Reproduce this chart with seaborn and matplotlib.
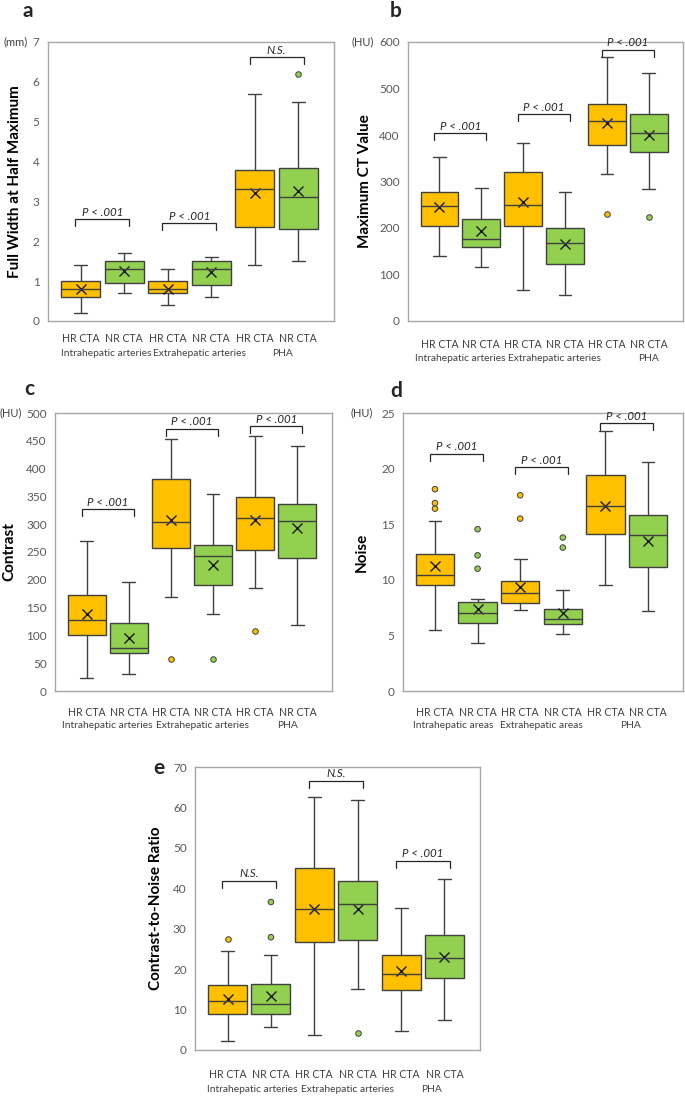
import numpy as np
import pandas as pd
import matplotlib
matplotlib.use("Agg")
import matplotlib.pyplot as plt
import seaborn as sns

# ---- data ----
groups = ["HR CTA", "NR CTA", "HR CTA", "NR CTA", "HR CTA", "NR CTA"]
regions_arteries = ["Intrahepatic arteries", "Extrahepatic arteries", "PHA"]
regions_areas = ["Intrahepatic areas", "Extrahepatic areas", "PHA"]

# a: full width at half maximum (mm)
fwhm_lo = [0.2, 0.7, 0.4, 0.6, 1.4, 1.5]
fwhm_q1 = [0.6, 0.95, 0.7, 0.9, 2.35, 2.3]
fwhm_med = [0.8, 1.3, 0.8, 1.3, 3.3, 3.1]
fwhm_q3 = [1.0, 1.5, 1.0, 1.5, 3.8, 3.85]
fwhm_hi = [1.4, 1.7, 1.3, 1.6, 5.7, 5.5]
fwhm_mean = [0.8, 1.25, 0.8, 1.22, 3.2, 3.25]
fwhm_out = [[], [], [], [], [], [6.2]]

# b: maximum CT value (HU)
maxct_lo = [140, 117, 67, 55, 316, 284]
maxct_q1 = [204, 160, 204, 122, 378, 363]
maxct_med = [247, 176, 250, 168, 430, 405]
maxct_q3 = [277, 220, 321, 201, 466, 445]
maxct_hi = [353, 285, 382, 277, 568, 534]
maxct_mean = [246, 193, 256, 166, 426, 400]
maxct_out = [[], [], [], [], [230], [223]]

# c: contrast (HU)
contrast_lo = [23, 31, 169, 138, 185, 118]
contrast_q1 = [101, 68, 258, 190, 254, 240]
contrast_med = [128, 77, 304, 242, 312, 305]
contrast_q3 = [173, 122, 382, 263, 349, 337]
contrast_hi = [269, 196, 453, 354, 459, 441]
contrast_mean = [139, 96, 307, 227, 307, 293]
contrast_out = [[], [], [58], [58], [108], []]

# d: noise (HU)
noise_lo = [5.5, 4.3, 7.3, 5.1, 9.5, 7.2]
noise_q1 = [9.55, 6.1, 7.95, 6.0, 14.1, 11.15]
noise_med = [10.45, 7.0, 8.8, 6.45, 16.6, 14.05]
noise_q3 = [12.3, 8.0, 9.85, 7.35, 19.45, 15.8]
noise_hi = [15.3, 8.3, 11.85, 9.05, 23.4, 20.6]
noise_mean = [11.2, 7.4, 9.35, 7.0, 16.65, 13.45]
noise_out = [[16.4, 16.9, 18.15], [11.0, 12.2, 14.55], [15.5, 17.6], [12.9, 13.8], [], []]

# e: contrast-to-noise ratio
cnr_lo = [2.2, 5.8, 3.7, 15.1, 4.8, 7.5]
cnr_q1 = [9.0, 8.8, 26.7, 27.3, 14.9, 17.8]
cnr_med = [12.0, 11.4, 34.8, 36.2, 18.85, 22.8]
cnr_q3 = [16.0, 16.35, 44.9, 41.7, 23.4, 28.4]
cnr_hi = [24.5, 23.5, 62.6, 61.9, 35.1, 42.4]
cnr_mean = [12.6, 13.3, 34.9, 34.8, 19.5, 23.0]
cnr_out = [[27.5], [27.9, 36.6], [], [4.2], [], []]

# comparison brackets: height of bracket and label
brackets_a = [(2.56, "P < .001"), (2.46, "P < .001"), (6.62, "N.S.")]
brackets_b = [(404, "P < .001"), (445, "P < .001"), (583, "P < .001")]
brackets_c = [(327, "P < .001"), (472, "P < .001"), (476, "P < .001")]
brackets_d = [(21.35, "P < .001"), (20.1, "P < .001"), (24.1, "P < .001")]
brackets_e = [(41.9, "N.S."), (66.6, "N.S."), (46.8, "P < .001")]

# ---- style ----
W, H = 685, 1097
ORANGE, GREEN = "#FFC000", "#92D050"
EDGE = "#404040"
keys = [f"b{i}" for i in range(6)]
palette = {k: (ORANGE if i % 2 == 0 else GREEN) for i, k in enumerate(keys)}

sns.set_style("white")
plt.rcParams["font.family"] = ["Lato", "DejaVu Sans"]


def box_table(lo, q1, med, q3, hi, m=60):
    # rows whose quartiles and min/max equal the read-off summary values
    rows = []
    for k, a, b, c, d, e in zip(keys, lo, q1, med, q3, hi):
        vals = [a] + [b] * m + [c] * m + [d] * m + [e]
        rows += [(k, v) for v in vals]
    return pd.DataFrame(rows, columns=["box", "value"])


def draw_panel(rect, letter, letter_xy, lo, q1, med, q3, hi, mean, out,
               ymax, ystep, ylabel, ylabel_off, unit, unit_off, regions,
               region_shift, brackets, row_offs):
    l, r, t, b = rect
    ax = fig.add_axes([l / W, 1 - b / H, (r - l) / W, (b - t) / H])
    hpx = b - t

    sns.boxplot(data=box_table(lo, q1, med, q3, hi), x="box", y="value",
                hue="box", palette=palette, order=keys, hue_order=keys,
                whis=(0, 100), showfliers=False, width=0.9, linewidth=1.0,
                linecolor=EDGE, saturation=1, legend=False, capwidths=0.3,
                ax=ax)

    means = pd.DataFrame({"box": keys, "value": mean})
    sns.pointplot(data=means, x="box", y="value", order=keys,
                  linestyle="none", marker="x", color="#1a1a1a",
                  errorbar=None, markersize=6.5, markeredgewidth=1.0, ax=ax)

    fl = pd.DataFrame([(k, v) for k, vs in zip(keys, out) for v in vs],
                      columns=["box", "value"])
    sns.stripplot(data=fl, x="box", y="value", hue="box", order=keys,
                  hue_order=keys, palette=palette, jitter=False, size=4,
                  linewidth=0.7, edgecolor=EDGE, legend=False, ax=ax)

    ax.set_xlim(-0.75, 5.82)
    ax.set_ylim(0, ymax)
    ticks = np.arange(0, ymax + ystep / 2, ystep)
    ax.set_yticks(ticks)
    ax.set_yticklabels([f"{v:g}" for v in ticks])
    ax.set_xticks(range(6))
    ax.set_xticklabels(groups)
    ax.set_xlabel("")
    ax.tick_params(axis="both", length=0)
    ax.tick_params(axis="y", labelsize=8.5, labelcolor="#595959", pad=6)
    ax.tick_params(axis="x", labelsize=7.6, labelcolor="#404040",
                   pad=row_offs[0] * 0.72)
    for lab in ax.get_xticklabels():
        lab.set_va("center")
    for sp in ax.spines.values():
        sp.set_color("#a6a6a6")
        sp.set_linewidth(1.0)

    for i, reg in enumerate(regions):
        ax.annotate(reg, xy=(2 * i + 0.5 + region_shift[i], 0),
                    xycoords=("data", "axes fraction"),
                    xytext=(0, -row_offs[1] * 0.72), textcoords="offset points",
                    ha="center", va="center", fontsize=7.4, color="#404040")

    ax.set_ylabel(ylabel, fontsize=11, fontweight="bold", color="black")
    ax.yaxis.set_label_coords(ylabel_off / (r - l), 0.5)

    if unit:
        ax.annotate(unit, xy=(0, 1), xycoords="axes fraction",
                    xytext=(unit_off * 0.72, 0), textcoords="offset points",
                    ha="right", va="center", fontsize=8, color="#404040")

    drop = ymax * 7 / hpx
    for i, (yb, txt) in enumerate(brackets):
        x0, x1 = 2 * i - 0.12, 2 * i + 1.12
        ax.plot([x0, x0, x1, x1], [yb - drop, yb, yb, yb - drop],
                color="#262626", lw=0.9, solid_joinstyle="miter")
        ax.annotate(txt, xy=((x0 + x1) / 2, yb), xytext=(0, 5),
                    textcoords="offset points", ha="center", va="center",
                    fontsize=8.3, style="italic", color="#262626")

    fig.text(letter_xy[0] / W, 1 - letter_xy[1] / H, letter, fontsize=15,
             fontweight="bold", ha="center", va="center")
    return ax


fig = plt.figure(figsize=(W / 100, H / 100), dpi=100)

draw_panel((48, 334, 42, 321), "a", (28, 11),
           fwhm_lo, fwhm_q1, fwhm_med, fwhm_q3, fwhm_hi, fwhm_mean, fwhm_out,
           7, 1, "Full Width at Half Maximum", -26, "(mm)", -20,
           regions_arteries, [0.09, 0.23, 0.14], brackets_a, (18, 33))
draw_panel((408, 683, 42, 321), "b", (396, 11),
           maxct_lo, maxct_q1, maxct_med, maxct_q3, maxct_hi, maxct_mean, maxct_out,
           600, 100, "Maximum CT Value", -36, "(HU)", -34,
           regions_arteries, [0.0, 0.24, 0.5], brackets_b, (24, 38))
draw_panel((55, 332, 413, 691), "c", (29, 389),
           contrast_lo, contrast_q1, contrast_med, contrast_q3, contrast_hi,
           contrast_mean, contrast_out,
           500, 50, "Contrast", -39, "(HU)", -33,
           regions_arteries, [0.0, 0.26, 0.26], brackets_c, (21, 34))
draw_panel((403, 683, 413, 691), "d", (396, 391),
           noise_lo, noise_q1, noise_med, noise_q3, noise_hi, noise_mean, noise_out,
           25, 5, "Noise", -34, "(HU)", -30,
           regions_areas, [-0.07, 0.0, 0.1], brackets_d, (21, 34))
draw_panel((195, 480, 767, 1050), "e", (159, 768),
           cnr_lo, cnr_q1, cnr_med, cnr_q3, cnr_hi, cnr_mean, cnr_out,
           70, 10, "Contrast-to-Noise Ratio", -32, None, 0,
           regions_arteries, [0.06, 0.26, 0.2], brackets_e, (25, 40))

fig.savefig("out.png", dpi=100)
